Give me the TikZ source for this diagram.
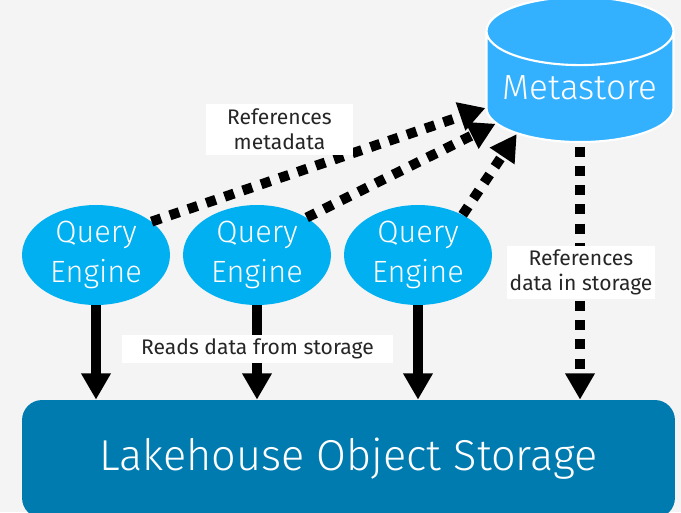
\documentclass[tikz,border=0pt]{standalone}
\usepackage{fontspec}
\setmainfont{Fira Sans}[UprightFont=* Light]
\newfontfamily\labelfont{Fira Sans}
\usetikzlibrary{arrows.meta,shapes.geometric}
\definecolor{pagegray}{HTML}{F4F4F4}
\definecolor{metablue}{HTML}{33B1FF}
\definecolor{engineblue}{HTML}{00B0F0}
\definecolor{storeblue}{HTML}{007BB0}
\definecolor{labelgray}{HTML}{262626}

\begin{document}
\begin{tikzpicture}[x=0.02cm,y=-0.02cm,
    engine/.style={ellipse,fill=engineblue,text=white,minimum width=2.96cm,minimum height=2cm,
      inner sep=0pt,align=center,font=\fontsize{17.5}{22.7}\selectfont},
    tag/.style={fill=white,text=labelgray,align=center,inner sep=0pt,
      font=\labelfont\fontsize{12}{14}\selectfont},
    reads/.style={line width=5.67pt,-{Triangle[width=16pt,length=15pt]}},
    refs/.style={reads,dash pattern=on 5.67pt off 5.3pt}]
  \fill[pagegray] (0,0) rectangle (681,512);
  \useasboundingbox (0,0) rectangle (681,512);

  % metastore and storage
  \node[cylinder, shape border rotate=90, aspect=0.41, draw=white, line width=1.2pt,
    fill=metablue, text=white, minimum width=3.74cm, minimum height=2.9cm, text depth=5.7pt,
    font=\fontsize{19.9}{22}\selectfont] (meta) at (580,93) {Metastore};
  \node[fill=storeblue, rounded corners=0.4cm, minimum width=13.06cm, minimum height=2.36cm,
    text=white, font=\fontsize{24.6}{28}\selectfont] (store) at (348.5,459) {Lakehouse Object Storage};

  % engines
  \node[engine] (q1) at (96,255) {Query\\Engine};
  \node[engine] (q2) at (257,255) {Query\\Engine};
  \node[engine] (q3) at (418,255) {Query\\Engine};

  \draw[reads] (q1.south) -- (q1.south |- store.north);
  \draw[reads] (q2.south) -- (q2.south |- store.north);
  \draw[reads] (q3.south) -- (q3.south |- store.north);
  \draw[refs] ([yshift=-2pt]meta.south) -- (meta.south |- store.north);
  \draw[refs] (q1.31) -- (meta.189);
  \draw[refs] (q2.37) -- (meta.200);
  \draw[refs] (q3.42) -- (meta.213);

  % labels
  \node[tag, minimum width=2.94cm, minimum height=1.02cm] (t1) at (279.5,129.5) {References\\metadata};
  \node[tag, minimum width=5.42cm, minimum height=0.56cm] (t2) at (257.5,349) {Reads data from storage};
  \node[tag, minimum width=2.96cm, minimum height=1.06cm] (t3) at (581,272.5) {References\\data in storage};
\end{tikzpicture}
\end{document}
